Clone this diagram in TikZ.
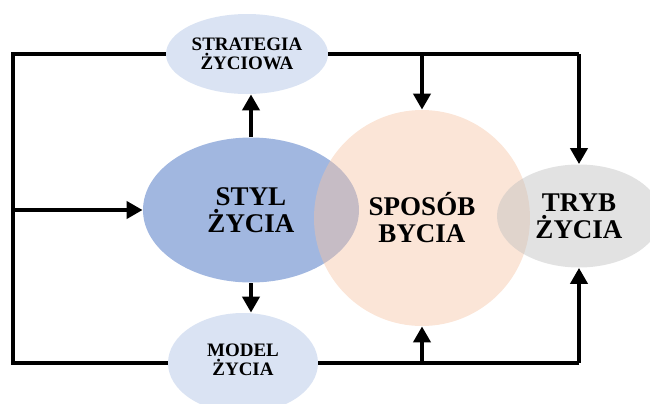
\documentclass[tikz,border=0pt]{standalone}
\usepackage{fontspec}
\setmainfont{Liberation Serif}
\usetikzlibrary{shapes.geometric,arrows.meta}

\definecolor{paleblue}{HTML}{DAE3F3}
\definecolor{midblue}{HTML}{A1B7E0}
\definecolor{peach}{HTML}{F6C4A4}
\definecolor{softgray}{HTML}{BFBFBF}

\tikzset{
  bubble/.style={ellipse, inner sep=0pt, align=center, font=\bfseries},
  small/.style={font=\fontsize{9.5pt}{9.5pt}\selectfont\bfseries},
  big/.style={font=\fontsize{13.5pt}{13.5pt}\selectfont\bfseries},
  link/.style={line width=2.4pt},
  flow/.style={line width=2.4pt, -{Triangle[length=8pt,width=8.5pt]}},
}

\begin{document}
\begin{tikzpicture}[x=0.5pt, y=-0.5pt]
\useasboundingbox (0,0) rectangle (650,403);

% main bubbles
\node[bubble, big, fill=midblue, minimum width=108pt, minimum height=72.5pt] (styl) at (251,210) {STYL\\ŻYCIA};
\node[bubble, fill=peach, fill opacity=0.44, text opacity=1, big, minimum width=108pt, minimum height=108pt] (sposob) at (422,218) {SPOSÓB\\BYCIA};
\node[bubble, fill=softgray, fill opacity=0.45, text opacity=1, big, minimum width=82pt, minimum height=51.5pt] (tryb) at (579,216) {TRYB\\ŻYCIA};

% side bubbles
\node[bubble, small, fill=paleblue, minimum width=81pt, minimum height=40pt] (strat) at (247,54) {STRATEGIA\\ŻYCIOWA};
\node[bubble, fill=paleblue, minimum width=75pt, minimum height=50pt] (model) at (243,363) {};
\node[small, align=center, inner sep=0pt] (modeltext) at (243,360) {MODEL\\ŻYCIA};

% frame on the left
\coordinate (tl) at (13,54);
\coordinate (bl) at (13,363);
\coordinate (ml) at (13,210);
\draw[link] (strat.west) -- (tl) -- (bl) -- (model.west);
\draw[flow] (ml) -- (styl.west);

% style of life to strategy and model
\draw[flow] (styl.north) -- (styl.north |- strat.south);
\draw[flow] (styl.south) -- (styl.south |- model.north);

% top rail
\coordinate (tr) at (tryb.north |- strat.east);
\draw[link] (strat.east) -- (tr);
\draw[flow] (tr) -- (tryb.north);
\draw[flow] (sposob.north |- strat.east) -- (sposob.north);

% bottom rail
\coordinate (br) at (tryb.south |- model.east);
\draw[link] (model.east) -- (br);
\draw[flow] (br) -- (tryb.south);
\draw[flow] (sposob.south |- model.east) -- (sposob.south);
\end{tikzpicture}
\end{document}
